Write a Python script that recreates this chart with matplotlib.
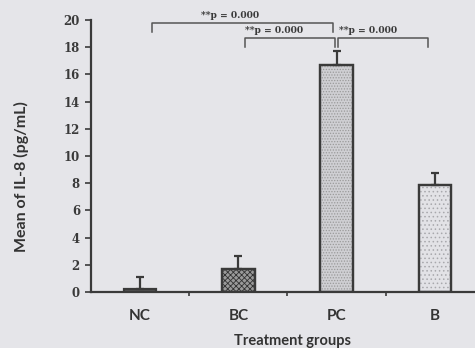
import matplotlib
matplotlib.use("Agg")
import matplotlib.pyplot as plt
import numpy as np

categories = ["NC", "BC", "PC", "B"]
means = [0.2, 1.7, 16.7, 7.85]
errors = [0.9, 0.95, 1.0, 0.9]
yticks = list(range(0, 21, 2))
# brackets: (x_start, x_end, y_top, y_leg_bottom, label, label_x, label_y)
brackets = [
    (0.12, 1.96, 19.8, 19.15, "**p = 0.000", 0.62, 20.3),
    (1.07, 1.98, 18.65, 18.0, "**p = 0.000", 1.07, 19.2),
    (2.02, 2.93, 18.65, 18.0, "**p = 0.000", 2.03, 19.2),
]

bg = "#e5e5e9"
edge = "#3a3a3a"
fig = plt.figure(figsize=(4.75, 3.48), dpi=100, facecolor=bg)
ax = fig.add_axes([0.1916, 0.161, 0.8084, 0.7815])
ax.set_facecolor(bg)

x = np.arange(len(categories))
fills = ["#555555", "#9a9a9a", "#cfcfd3", "#e2e2e6"]
hatches = [None, "xxxxxx", "......", "...."]
hatch_cols = ["#333333", "#333333", "#9a9a9a", "#a8a8ac"]
plt.rcParams['hatch.linewidth'] = 0.6
for i in range(len(categories)):
    ax.bar(x[i], means[i], width=0.33, color=fills[i], edgecolor=edge,
           linewidth=1.6, zorder=2)
    if hatches[i]:
        ax.bar(x[i], means[i], width=0.33, color="none", edgecolor=hatch_cols[i],
               hatch=hatches[i], linewidth=0, zorder=3)
        ax.bar(x[i], means[i], width=0.33, color="none", edgecolor=edge,
               linewidth=1.6, zorder=4)
ax.errorbar(x, means, yerr=[np.zeros(len(means)), errors], fmt="none",
            ecolor=edge, elinewidth=1.6, capsize=3, capthick=1.6, zorder=5)

ax.set_xlim(-0.5, 3.41)
ax.set_ylim(0, 20)
ax.set_yticks(yticks)
ax.set_yticklabels([str(t) for t in yticks], fontfamily="DejaVu Serif",
                   fontweight="bold", fontsize=8.5, color="#3a3a3a")
ax.set_xticks(x)
ax.set_xticklabels(categories, fontfamily="Lato", fontweight="bold",
                   fontsize=11, color="#333333")
ax.tick_params(axis="x", which="major", length=0, pad=12)
ax.set_xticks([0.5, 1.5, 2.5], minor=True)
ax.tick_params(axis="x", which="minor", length=3, width=1.2, color=edge, direction="out")
ax.tick_params(axis="y", length=4, width=1.2, color=edge, pad=4)

for s in ["top", "right"]:
    ax.spines[s].set_visible(False)
for s in ["left", "bottom"]:
    ax.spines[s].set_linewidth(1.6)
    ax.spines[s].set_color(edge)

ax.set_ylabel("Mean of IL-8 (pg/mL)", fontfamily="Lato", fontweight="bold",
              fontsize=11.5, color="#333333", va="center")
ax.yaxis.set_label_coords(-0.182, 0.426)
ax.set_xlabel("Treatment groups", fontfamily="Lato", fontweight="bold",
              fontsize=10.5, color="#333333", va="center")
ax.xaxis.set_label_coords(0.526, -0.18)

for x0, x1, yt, yb, lab, lx, ly in brackets:
    ax.plot([x0, x0, x1, x1], [yb, yt, yt, yb], color="#555555", lw=1.1,
            clip_on=False, zorder=6)
    ax.text(lx, ly, lab, ha="left", va="center", fontfamily="DejaVu Serif",
            fontweight="bold", fontsize=6.6, color="#3a3a3a", clip_on=False)

fig.savefig("out.png", dpi=100, facecolor=bg)
